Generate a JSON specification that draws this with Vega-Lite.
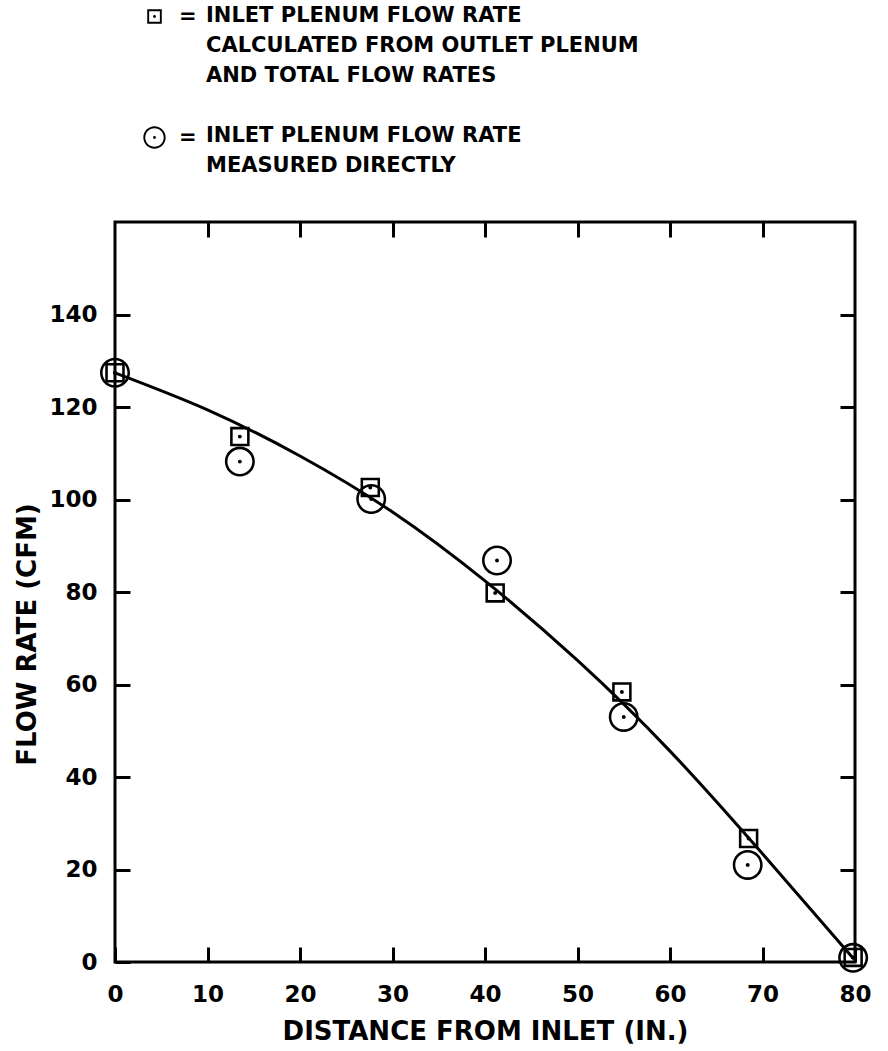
{
  "$schema": "https://vega.github.io/schema/vega-lite/v6.json",
  "width": 740,
  "height": 740,
  "autosize": {"type": "none"},
  "padding": {"left": 115, "top": 222, "right": 33, "bottom": 89},
  "background": "white",
  "config": {
    "font": "DejaVu Sans",
    "view": {"stroke": "black", "strokeWidth": 3},
    "axis": {
      "grid": false,
      "domain": false,
      "labelFlush": false,
      "tickColor": "black",
      "tickWidth": 3,
      "tickSize": -15,
      "labelFont": "DejaVu Sans",
      "labelFontSize": 23,
      "labelFontWeight": "bold",
      "labelColor": "black",
      "titleFont": "DejaVu Sans",
      "titleFontSize": 26,
      "titleFontWeight": "bold",
      "titleColor": "black"
    }
  },
  "datasets": {
    "curve": [
      {"distance": 0, "flow": 127.4},
      {"distance": 10, "flow": 119.4},
      {"distance": 20, "flow": 109.4},
      {"distance": 30, "flow": 97.3},
      {"distance": 40, "flow": 82.4},
      {"distance": 50, "flow": 65.2},
      {"distance": 60, "flow": 45.6},
      {"distance": 70, "flow": 23.4},
      {"distance": 79.8, "flow": 0.8}
    ],
    "readings": [
      {"method": "calculated", "distance": 0, "flow": 127.4},
      {"method": "calculated", "distance": 13.5, "flow": 113.6},
      {"method": "calculated", "distance": 27.6, "flow": 102.6},
      {"method": "calculated", "distance": 41.1, "flow": 79.8},
      {"method": "calculated", "distance": 54.8, "flow": 58.4},
      {"method": "calculated", "distance": 68.5, "flow": 26.7},
      {"method": "calculated", "distance": 79.8, "flow": 1.0},
      {"method": "measured", "distance": 0, "flow": 127.4},
      {"method": "measured", "distance": 13.5, "flow": 108.2},
      {"method": "measured", "distance": 27.7, "flow": 100.1},
      {"method": "measured", "distance": 41.3, "flow": 86.8},
      {"method": "measured", "distance": 55.0, "flow": 53.0},
      {"method": "measured", "distance": 68.4, "flow": 21.0},
      {"method": "measured", "distance": 79.8, "flow": 0.9}
    ]
  },
  "layer": [
    {
      "data": {"name": "curve"},
      "mark": {"type": "line", "interpolate": "natural", "color": "black", "strokeWidth": 3},
      "encoding": {
        "x": {
          "field": "distance",
          "type": "quantitative",
          "scale": {"domain": [0, 80], "nice": false, "zero": false},
          "axis": {
            "orient": "bottom",
            "values": [0, 10, 20, 30, 40, 50, 60, 70, 80],
            "title": "DISTANCE FROM INLET (IN.)",
            "labelPadding": 36,
            "titlePadding": 12
          }
        },
        "y": {
          "field": "flow",
          "type": "quantitative",
          "scale": {"domain": [0, 160], "nice": false, "zero": false},
          "axis": {
            "orient": "left",
            "values": [0, 20, 40, 60, 80, 100, 120, 140],
            "title": "FLOW RATE (CFM)",
            "labelPadding": 33,
            "titleX": -88,
            "titleY": 412,
            "titleBaseline": "middle",
            "titleAlign": "center"
          }
        }
      }
    },
    {
      "data": {"name": "readings"},
      "mark": {"type": "point", "filled": true, "color": "black", "opacity": 1, "size": 900, "strokeWidth": 0},
      "encoding": {
        "x": {
          "field": "distance",
          "type": "quantitative",
          "scale": {"domain": [0, 80], "nice": false, "zero": false},
          "axis": {"orient": "top", "values": [10, 20, 30, 40, 50, 60, 70], "labels": false, "title": null}
        },
        "y": {
          "field": "flow",
          "type": "quantitative",
          "scale": {"domain": [0, 160], "nice": false, "zero": false},
          "axis": {"orient": "right", "values": [20, 40, 60, 80, 100, 120, 140], "labels": false, "title": null}
        },
        "shape": {
          "field": "method",
          "type": "nominal",
          "scale": {
            "domain": ["calculated", "measured"],
            "range": [
              "M-0.65,-0.65H0.65V0.65H-0.65Z M-0.48,-0.48V0.48H0.48V-0.48Z M-0.13,0A0.13,0.13 0 1,0 0.13,0A0.13,0.13 0 1,0 -0.13,0Z",
              "M-1,0A1,1 0 1,1 1,0A1,1 0 1,1 -1,0Z M-0.83,0A0.83,0.83 0 1,0 0.83,0A0.83,0.83 0 1,0 -0.83,0Z M-0.13,0A0.13,0.13 0 1,0 0.13,0A0.13,0.13 0 1,0 -0.13,0Z"
            ]
          },
          "legend": {
            "orient": "none",
            "legendX": 28,
            "legendY": -217,
            "direction": "vertical",
            "title": [
              "INLET PLENUM FLOW RATE",
              "CALCULATED FROM OUTLET PLENUM",
              "AND TOTAL FLOW RATES",
              "\u200b",
              "INLET PLENUM FLOW RATE",
              "MEASURED DIRECTLY"
            ],
            "titleOrient": "right",
            "titleAnchor": "start",
            "titleBaseline": "top",
            "titleAlign": "left",
            "titleFont": "DejaVu Sans",
            "titleFontSize": 21,
            "titleFontWeight": "bold",
            "titleColor": "black",
            "titleLineHeight": 30,
            "titleLimit": 0,
            "titlePadding": 9,
            "labelExpr": "'='",
            "labelFont": "DejaVu Sans",
            "labelFontSize": 21,
            "labelFontWeight": "bold",
            "labelColor": "black",
            "labelOffset": 13,
            "labelLimit": 0,
            "symbolSize": 500,
            "symbolFillColor": "black",
            "symbolStrokeWidth": 0,
            "symbolOpacity": 1,
            "rowPadding": 99
          }
        }
      }
    }
  ]
}
